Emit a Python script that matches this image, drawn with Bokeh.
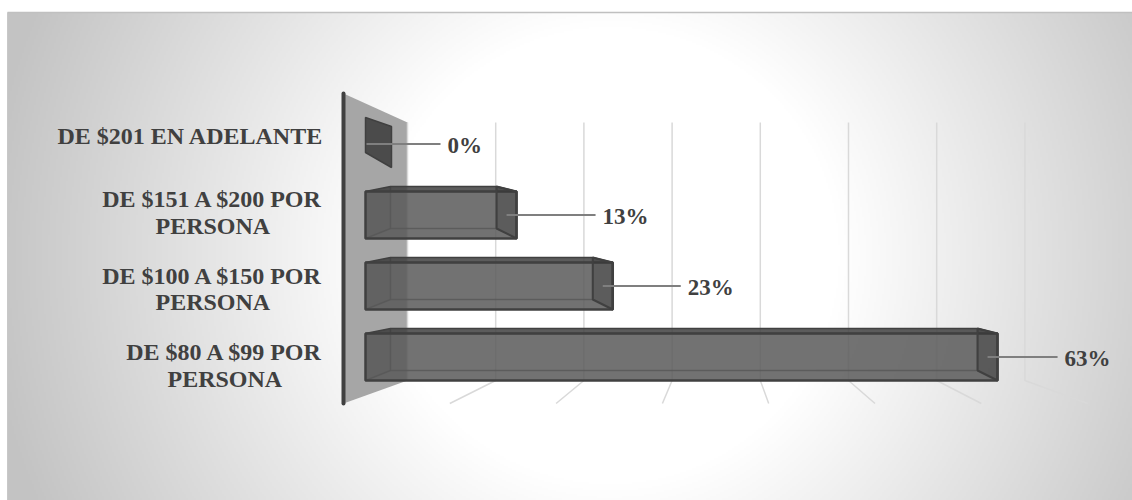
import numpy as np
from bokeh.plotting import figure
from bokeh.models import Range1d
from bokeh.core.properties import value
from bokeh.embed import file_html
from bokeh.resources import INLINE

# ---------------- data (top to bottom as shown) ----------------
categories = ["DE $201 EN ADELANTE",
              "DE $151 A $200 POR PERSONA",
              "DE $100 A $150 POR PERSONA",
              "DE $80 A $99 POR PERSONA"]
percentages = [0, 13, 23, 63]
value_labels = ["0%", "13%", "23%", "63%"]
grid_ticks = [0, 10, 20, 30, 40, 50, 60, 70]

# ---------------- layout / style ----------------
W, H = 1132, 500
SX, X0 = 9.62, 391.0      # px per percent, pixel of 0 %
SY, Y0 = 71.0, 356.5      # px per category step, pixel of lowest category
leader_px = [49, 79, 68, 60]   # leader length beyond bar end (top to bottom)
TXT = "#404040"
FONT = value("Liberation Serif")

def X(px):
    return (px - X0) / SX

def Y(py):
    return (Y0 - py) / SY

def dxp(px):
    return px / SX

def dyp(px):  # downward pixel offset -> data
    return -px / SY

def FRONT_X(t):
    return X(343) + t * 10.63 / SX

def BACK_X(t):
    return X(407) + t * 8.82 / SX

p = figure(width=W, height=H, output_backend="svg", toolbar_location=None,
           x_axis_type=None, y_axis_type=None, min_border=0,
           x_range=Range1d(X(0), X(W)), y_range=Range1d(Y(H), Y(0)),
           background_fill_color="white", border_fill_color="white",
           outline_line_color=None)
p.xgrid.visible = False
p.ygrid.visible = False

# ---------------- background radial gradient ----------------
nx, ny = 563, 244
xs = np.linspace(7, W, nx)
ys = np.linspace(H, 12, ny)
XX, YY = np.meshgrid(xs, ys)
d = np.sqrt((XX - 610) ** 2 + (YY - 255) ** 2)
g = (255 - 60 * np.clip((d - 230) / 400, 0, 1)).astype(np.uint8)
img = np.empty((ny, nx), dtype=np.uint32)
v8 = img.view(dtype=np.uint8).reshape((ny, nx, 4))
v8[:, :, 0] = g
v8[:, :, 1] = g
v8[:, :, 2] = g
v8[:, :, 3] = 255
p.image_rgba(image=[img], x=X(7), y=Y(H), dw=(W - 7) / SX, dh=(H - 12) / SY)
p.line([X(7), X(W)], [Y(12), Y(12)], line_color="#c0c0c0", line_width=1.5)
p.line([X(7), X(7)], [Y(12), Y(H)], line_color="#c8c8c8", line_width=1)

# ---------------- back wall & gridlines ----------------
p.patch([FRONT_X(0), BACK_X(0), BACK_X(0), FRONT_X(0)],
        [Y(93), Y(122), Y(380), Y(403)], fill_color="#a6a6a6", line_color=None)
gx, gy = [], []
for t in grid_ticks:
    if t == 0:
        gx.append([BACK_X(t), BACK_X(t)])
        gy.append([Y(122), Y(380)])
    else:
        gx.append([BACK_X(t), BACK_X(t), FRONT_X(t)])
        gy.append([Y(122), Y(380), Y(403)])
p.multi_line(gx, gy, line_color="#d9d9d9", line_width=1.5)
p.line([FRONT_X(0), FRONT_X(0)], [Y(93), Y(403)], line_color="#404040",
       line_width=4, line_cap="round")

# ---------------- 3D bars ----------------
n = len(categories)
for k, (v, lab) in enumerate(zip(percentages, value_labels)):
    yc = n - 1 - k
    ft, fb = yc - dyp(-23.5) * -1 if False else yc + 23.5 / SY, yc - 23.5 / SY
    bt, bb = ft + 5 / SY, fb + 10 / SY
    xl = 0 - dxp(26)
    xbl = 0 - dxp(1)
    xf = v
    xb = xl if v == 0 else v - dxp(20)
    if v > 0:
        # hidden back edges seen through the translucent front
        p.multi_line([[xbl, xbl, xb, xb], [xl, xbl]],
                     [[bt, bb, bb, bt], [fb, bb]],
                     line_color="#4a4a4a", line_width=1.5, line_alpha=0.8)
        # left end face
        p.patch([xl, xbl, xbl, xl], [ft, bt, bb, fb], fill_color="#404040",
                fill_alpha=0.2, line_color=None)
        # top face
        p.patch([xl, xbl, xb, xf], [ft, bt, bt, ft], fill_color="#404040",
                fill_alpha=0.85, line_color="#404040", line_width=1.5)
        # front face
        p.patch([xl, xf, xf, xl], [ft, ft, fb, fb], fill_color="#595959",
                fill_alpha=0.85, line_color="#404040", line_width=2.5)
        # right end face
        p.patch([xb, xf, xf, xb], [bt, ft, fb, bb], fill_color="#333333",
                fill_alpha=0.35, line_color="#404040", line_width=2)
        x_start = (xb + xf) / 2
    else:
        p.patch([xb, xf, xf, xb], [bt - 2 / SY, ft - 6 / SY, fb, bb + 5 / SY],
                fill_color="#4b4b4b", line_color="#404040", line_width=1.5)
        x_start = xl + dxp(1)
    x_end = xf + dxp(leader_px[k])
    p.line([x_start, x_end], [yc, yc], line_color="#7f7f7f", line_width=2)
    p.text(x=[x_end + dxp(7)], y=[yc - 1 / SY], text=[lab], text_font=FONT,
           text_font_style="bold", text_font_size="23px", text_color=TXT,
           text_align="left", text_baseline="middle")

# ---------------- category labels ----------------
TB = {' ': 250, '$': 500, 'A': 722, 'D': 722, 'E': 667, 'L': 667, 'N': 722,
      'O': 778, 'P': 611, 'R': 722, 'S': 556, 'T': 667}
def text_w(s, size=24):
    return sum(TB.get(c, 500) for c in s) * size / 1000.0

RIGHT = 323
for k, c in enumerate(categories):
    lines = c.rsplit(" ", 1) if c.endswith("PERSONA") else [c]
    slot = 135.5 + 76.5 * k
    if len(lines) == 1:
        p.text(x=[X(RIGHT)], y=[Y(slot)], text=[lines[0]], text_font=FONT,
               text_font_style="bold", text_font_size="24px", text_color=TXT,
               text_align="right", text_baseline="middle")
    else:
        w1 = text_w(lines[0])
        cx = RIGHT - w1 / 2
        p.text(x=[X(cx), X(cx)], y=[Y(slot - 13.35), Y(slot + 13.35)],
               text=lines, text_font=FONT, text_font_style="bold",
               text_font_size="24px", text_color=TXT,
               text_align="center", text_baseline="middle")

open("out.html", "w").write(file_html(p, INLINE))
